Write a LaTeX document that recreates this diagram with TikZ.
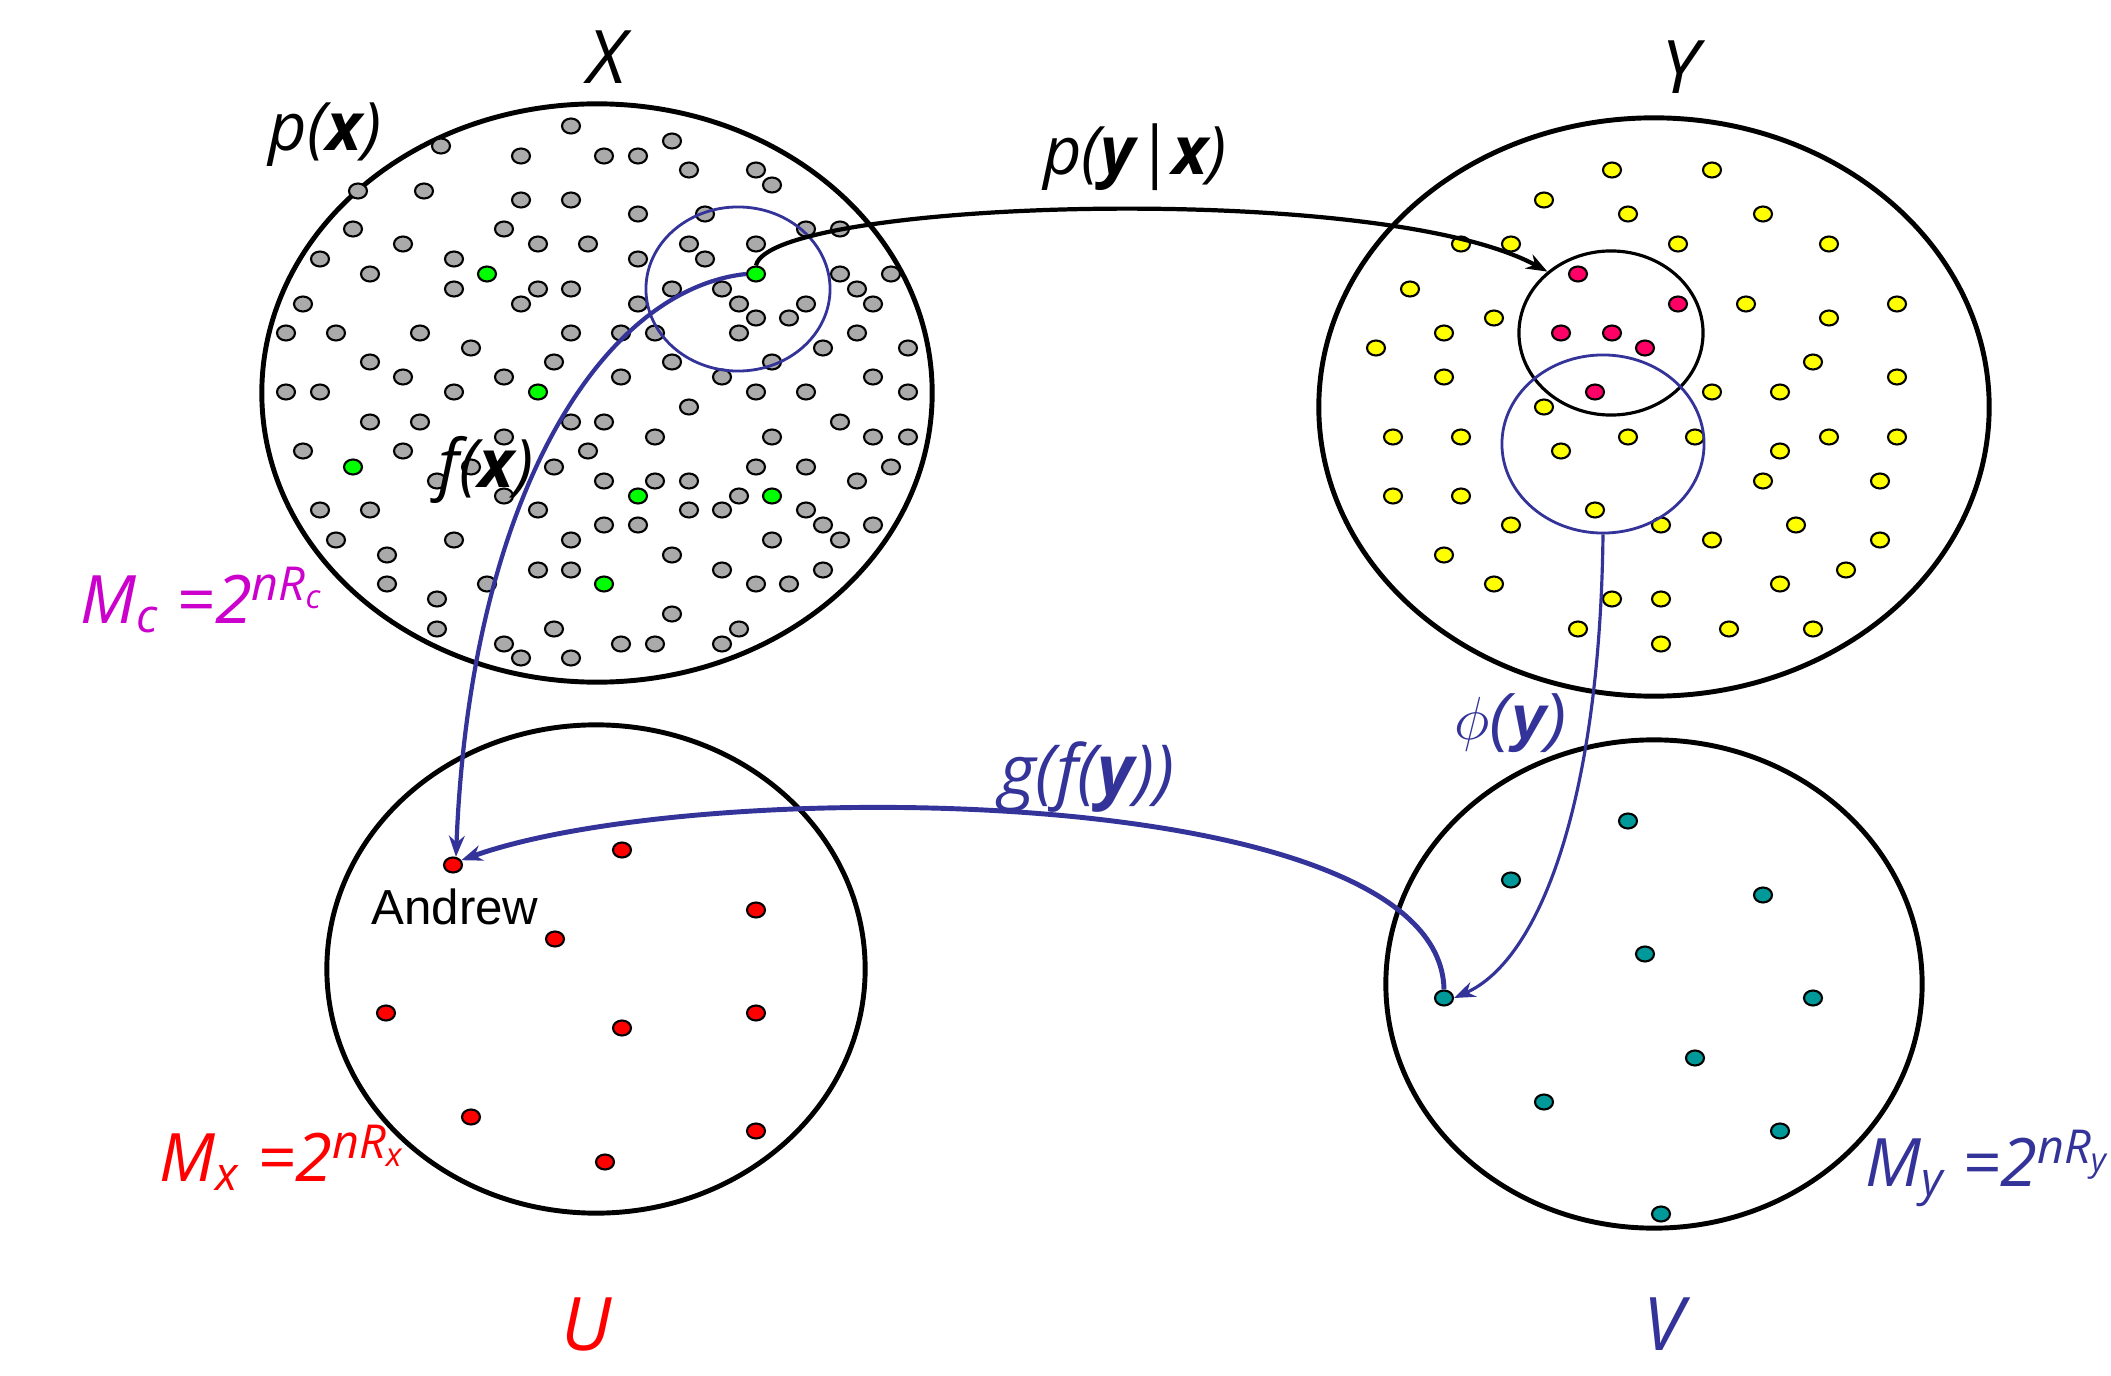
\documentclass[tikz,border=0pt]{standalone}
\usepackage{fontspec}
\setmainfont{Liberation Sans}
\newfontfamily\handfont{Open Sans}
\usepackage{tikz}
\usetikzlibrary{shapes.geometric,arrows.meta,positioning}
\definecolor{dotgray}{HTML}{AAAAAA}
\definecolor{dotgreen}{HTML}{00FF00}
\definecolor{dotyellow}{HTML}{FFFF00}
\definecolor{dotpink}{HTML}{FF0066}
\definecolor{dotred}{HTML}{FF0000}
\definecolor{dotteal}{HTML}{009999}
\definecolor{codeblue}{HTML}{333399}
\definecolor{codemag}{HTML}{CC00CC}

\begin{document}
\begin{tikzpicture}[x=0.01cm,y=-0.01cm,
  sample/.style={ellipse,draw,line width=0.6pt,inner sep=0pt,minimum width=0.18cm,minimum height=0.15cm},
  region/.style={ellipse,draw,line width=1.4pt,inner sep=0pt},
  lbl/.style={inner sep=0pt,font=\handfont\itshape\fontsize{19}{22}\selectfont},
  biglbl/.style={inner sep=0pt,font=\handfont\itshape\fontsize{21}{24}\selectfont},
  conn/.style={-{Stealth[length=6pt,width=4.5pt]}}]
  \useasboundingbox (0,0) rectangle (2111,1376);

  % the four sets
  \node[region,minimum width=6.70cm,minimum height=5.78cm] (X) at (597,393) {};
  \node[region,minimum width=6.70cm,minimum height=5.78cm] (Y) at (1654,407) {};
  \node[region,minimum width=5.38cm,minimum height=4.88cm] (U) at (596,969) {};
  \node[region,minimum width=5.36cm,minimum height=4.88cm] (V) at (1654,984) {};

  % source sequences x
  \foreach \x/\y [count=\n] in {
    571/126, 441/146, 521/156, 604/156, 638/156, 672/141, 689/170, 756/170, 772/185,
    358/191, 424/191, 521/200, 571/200, 638/214, 705/214,
    353/229, 504/229, 806/229, 840/229, 403/244, 538/244, 588/244, 689/244, 756/244,
    320/259, 454/259, 638/259, 705/259, 370/274, 840/274, 891/274,
    454/289, 538/289, 571/289, 672/289, 722/289, 857/289,
    303/304, 521/304, 638/304, 739/304, 806/304, 873/304, 756/318, 789/318,
    286/333, 336/333, 420/333, 571/333, 621/333, 655/333, 739/333, 857/333,
    471/348, 823/348, 908/348, 370/362, 554/362, 672/362, 772/362,
    403/377, 504/377, 621/377, 722/377, 873/377,
    286/392, 320/392, 454/392, 756/392, 806/392, 908/392, 689/407,
    370/422, 420/422, 571/422, 604/422, 840/422,
    504/437, 655/437, 772/437, 873/437, 908/437, 303/451, 403/451, 588/451,
    471/467, 554/467, 756/467, 806/467, 891/467,
    437/481, 604/481, 655/481, 689/481, 857/481, 504/496, 739/496,
    320/510, 370/510, 538/510, 689/510, 722/510, 806/510,
    604/525, 638/525, 823/525, 873/525, 336/540, 454/540, 571/540, 772/540, 840/540,
    387/555, 672/555, 538/570, 571/570, 722/570, 823/570,
    387/584, 487/584, 756/584, 789/584, 437/599, 672/614,
    437/629, 554/629, 739/629, 504/644, 621/644, 655/644, 722/644, 521/658, 571/658}
    \node[sample,fill=dotgray] (g\n) at (\x,\y) {};
  % codewords
  \foreach \x/\y [count=\n] in {487/274, 538/392, 353/467, 638/496, 772/496, 604/584}
    \node[sample,fill=dotgreen] (c\n) at (\x,\y) {};
  \node[sample,fill=dotgreen] (xsrc) at (756,274) {};

  % outputs y
  \foreach \x/\y [count=\n] in {
    1612/170, 1712/170, 1544/200, 1628/214, 1763/214,
    1461/244, 1511/244, 1678/244, 1829/244, 1410/289, 1746/304, 1897/304,
    1494/318, 1829/318, 1444/333, 1376/348, 1813/362, 1444/377, 1897/377,
    1712/392, 1780/392, 1544/407,
    1393/437, 1461/437, 1628/437, 1695/437, 1829/437, 1897/437, 1561/451, 1780/451,
    1763/481, 1880/481, 1393/496, 1461/496, 1595/510,
    1511/525, 1661/525, 1796/525, 1712/540, 1880/540, 1444/555, 1846/570,
    1494/584, 1780/584, 1612/599, 1661/599, 1578/629, 1729/629, 1813/629, 1661/644}
    \node[sample,fill=dotyellow] (y\n) at (\x,\y) {};
  \foreach \x/\y [count=\n] in {1578/274, 1678/304, 1561/333, 1612/333, 1645/348, 1595/392}
    \node[sample,fill=dotpink] (t\n) at (\x,\y) {};

  % indices u and v
  \foreach \x/\y [count=\n] in {622/850, 756/910, 555/939, 386/1013, 622/1028,
    756/1013, 471/1117, 756/1131, 605/1162}
    \node[sample,fill=dotred] (u\n) at (\x,\y) {};
  \node[sample,fill=dotred] (andrew) at (453,865) {};
  \foreach \x/\y [count=\n] in {1628/821, 1511/880, 1763/895, 1645/954, 1813/998,
    1695/1058, 1544/1102, 1780/1131, 1661/1214}
    \node[sample,fill=dotteal] (v\n) at (\x,\y) {};
  \node[sample,fill=dotteal] (vhat) at (1444,998) {};

  % small balls
  \node[ellipse,draw=codeblue,line width=0.8pt,minimum width=1.84cm,minimum height=1.64cm] (ball) at (738,289) {};
  \node[ellipse,draw,line width=0.9pt,minimum width=1.84cm,minimum height=1.64cm] (fan) at (1611,333) {};
  \node[ellipse,draw=codeblue,line width=0.8pt,minimum width=2.02cm,minimum height=1.78cm] (dec) at (1603,444) {};

  % maps
  \draw[conn,line width=1.2pt] (xsrc.north) .. controls (770,200) and (1380,180) .. (fan.136);
  \draw[conn,codeblue,line width=1.2pt] (xsrc.west) .. controls (600,290) and (470,500) .. (andrew.70);
  \draw[conn,codeblue,line width=1.4pt] (vhat.north) .. controls (1440,780) and (700,775) .. (andrew.30);
  \draw[conn,codeblue,line width=0.9pt] (dec.south) .. controls (1600,800) and (1540,960) .. (vhat.east);

  % labels
  \node[biglbl] (lX) at (607,57) {X};
  \node[biglbl] (lY) at (1680,67) {Y};
  \node[biglbl,text=dotred] (lU) at (587,1324) {U};
  \node[biglbl,text=codeblue] (lV) at (1664,1324) {V};
  \node[lbl] (px) at (325,135) {p(\textbf{x})};
  \node[lbl] (fx) at (486,470) {f(\textbf{x})};
  \node[lbl] (pyx) at (1135,157) {p(\textbf{y}|\textbf{x})};
  \node[lbl,text=codeblue,font=\handfont\itshape\fontsize{20}{23}\selectfont] (gfy) at (1087,777) {g(f(\textbf{y}))};
  \node[text=codeblue,font=\itshape\fontsize{18}{20}\selectfont] (phiy) at (1511,723) {$\phi$(\textbf{y})};
  \node[font=\fontsize{14}{16}\selectfont] (name) at (455,907) {Andrew};
  \node[lbl,text=codemag,anchor=base west] (Mc) at (80,623) {M\textsubscript{c} =2\textsuperscript{nR\textsubscript{c}}};
  \node[lbl,text=dotred,anchor=base west] (Mx) at (159,1181) {M\textsubscript{x} =2\textsuperscript{nR\textsubscript{x}}};
  \node[lbl,text=codeblue,anchor=base west] (My) at (1865,1186) {M\textsubscript{y} =2\textsuperscript{nR\textsubscript{y}}};
\end{tikzpicture}
\end{document}
